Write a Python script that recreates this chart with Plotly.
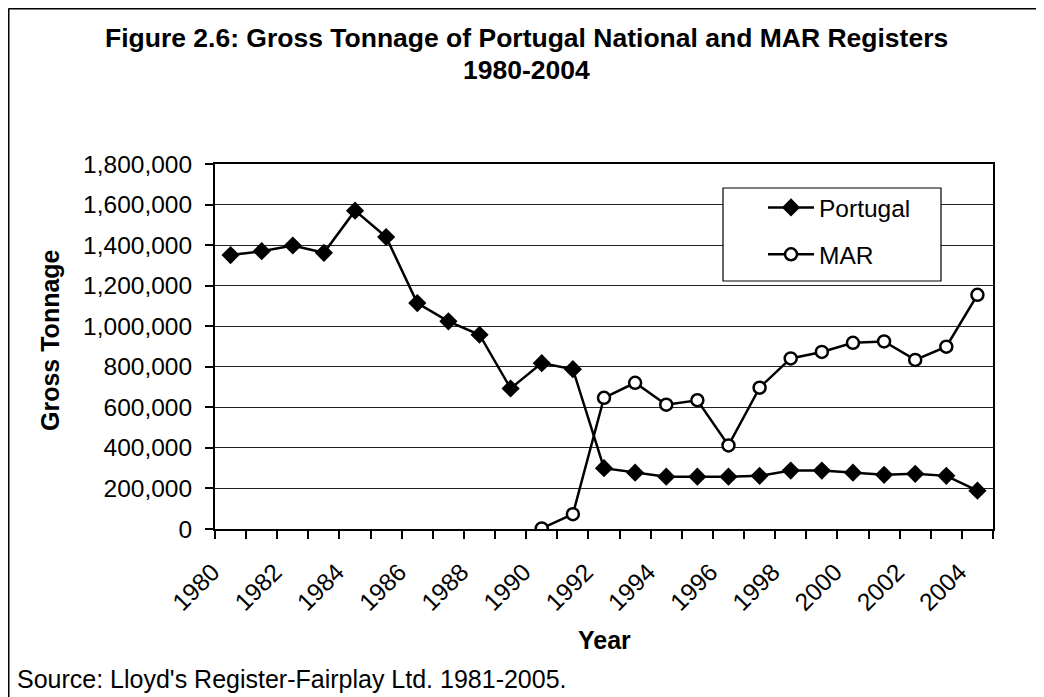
import plotly.graph_objects as go

years = list(range(1980, 2005))
portugal = [1351000, 1370000, 1398000, 1362000, 1570000, 1440000, 1114000, 1024000,
            958000, 693000, 818000, 788000, 300000, 278000, 258000, 258000, 258000,
            262000, 288000, 288000, 278000, 267000, 272000, 262000, 189000]
mar = [None] * 10 + [3000, 73000, 647000, 721000, 613000, 635000, 412000, 697000,
                     841000, 873000, 918000, 925000, 834000, 899000, 1155000]
label_years = years[::2]
label_text = [str(y) for y in label_years]
boundaries = [y - 0.5 for y in years] + [years[-1] + 0.5]

FONT = "Liberation Sans, Arial, sans-serif"

# the page has an 8px body margin, so the figure starts at (8, 8)
W, H = 1036, 689
ML, MR, MT, MB = 207, 51, 156, 168

fig = go.Figure()
fig.add_trace(go.Scatter(
    x=years, y=portugal, mode="lines+markers", name="Portugal",
    legendgroup="p",
    line=dict(color="black", width=2.5),
    marker=dict(symbol="diamond", size=14, color="black"),
))
fig.add_trace(go.Scatter(
    x=years, y=mar, mode="lines+markers", name="MAR",
    legendgroup="m",
    line=dict(color="black", width=2.5),
    marker=dict(symbol="circle", size=12, color="white",
                line=dict(color="black", width=2.5)),
))

fig.update_layout(
    width=W, height=H,
    margin=dict(l=ML, r=MR, t=MT, b=MB),
    paper_bgcolor="white", plot_bgcolor="white",
    font=dict(family=FONT, color="black", size=24),
    showlegend=True,
    legend=dict(
        x=0.7044, y=0.9425, xanchor="left", yanchor="top",
        bgcolor="rgba(0,0,0,0)", borderwidth=0,
        font=dict(family=FONT, size=24.5, color="black"),
        tracegroupgap=12, itemwidth=46,
    ),
    xaxis=dict(
        range=[1979.5, 2004.5],
        tickmode="array", tickvals=label_years, ticktext=label_text,
        tickangle=-45, ticks="", showgrid=False,
        ticklabelstandoff=17, ticklabelshift=-18,
        showline=True, linecolor="black", linewidth=2, mirror=True,
        zeroline=False,
        tickfont=dict(family=FONT, size=24.5, color="black"),
        minor=dict(tickmode="array", tickvals=boundaries, ticks="outside",
                   ticklen=8, tickwidth=1.5, tickcolor="black", showgrid=False),
    ),
    yaxis=dict(
        range=[0, 1800000], dtick=200000, tickformat=",d",
        ticks="outside", ticklen=8, tickwidth=1.5, tickcolor="black",
        ticklabelstandoff=8,
        showgrid=True, gridcolor="#222222", gridwidth=1,
        showline=True, linecolor="black", linewidth=2, mirror=True,
        zeroline=False,
        tickfont=dict(family=FONT, size=24.5, color="black"),
    ),
)

def px_x(x):  # figure pixel -> paper x
    return (x - ML) / (W - ML - MR)

def px_y(y):  # figure pixel -> paper y
    return (H - MB - y) / (H - MT - MB)

# legend box (white, framed)
fig.add_shape(type="rect", xref="paper", yref="paper", layer="above",
              x0=px_x(715), x1=px_x(933), y0=px_y(180), y1=px_y(273),
              fillcolor="white", line=dict(color="black", width=1.2))

# outer chart frame (left and top edges)
fig.add_shape(type="line", xref="paper", yref="paper",
              x0=px_x(0.5), x1=px_x(0.5), y0=px_y(0.5), y1=px_y(H + 5),
              line=dict(color="black", width=2))
fig.add_shape(type="line", xref="paper", yref="paper",
              x0=px_x(0.5), x1=px_x(W + 5), y0=px_y(0.5), y1=px_y(0.5),
              line=dict(color="black", width=2))

# title
fig.add_annotation(
    text="<b>Figure 2.6: Gross Tonnage of Portugal National and MAR Registers</b>",
    xref="paper", yref="paper", x=px_x(518), y=px_y(30),
    xanchor="center", yanchor="middle", showarrow=False,
    font=dict(family=FONT, size=26.5, color="black"),
)
fig.add_annotation(
    text="<b>1980-2004</b>",
    xref="paper", yref="paper", x=px_x(518), y=px_y(62),
    xanchor="center", yanchor="middle", showarrow=False,
    font=dict(family=FONT, size=26.5, color="black"),
)
# axis titles
fig.add_annotation(
    text="<b>Gross Tonnage</b>", textangle=-90,
    xref="paper", yref="paper", x=px_x(42), y=px_y(332),
    xanchor="center", yanchor="middle", showarrow=False,
    font=dict(family=FONT, size=25, color="black"),
)
fig.add_annotation(
    text="<b>Year</b>",
    xref="paper", yref="paper", x=px_x(596), y=px_y(632),
    xanchor="center", yanchor="middle", showarrow=False,
    font=dict(family=FONT, size=25, color="black"),
)
# source
fig.add_annotation(
    text="Source: Lloyd's Register-Fairplay Ltd. 1981-2005.",
    xref="paper", yref="paper", x=px_x(7), y=px_y(671),
    xanchor="left", yanchor="middle", showarrow=False,
    font=dict(family=FONT, size=25, color="black"),
)

fig.write_html("out.html")
